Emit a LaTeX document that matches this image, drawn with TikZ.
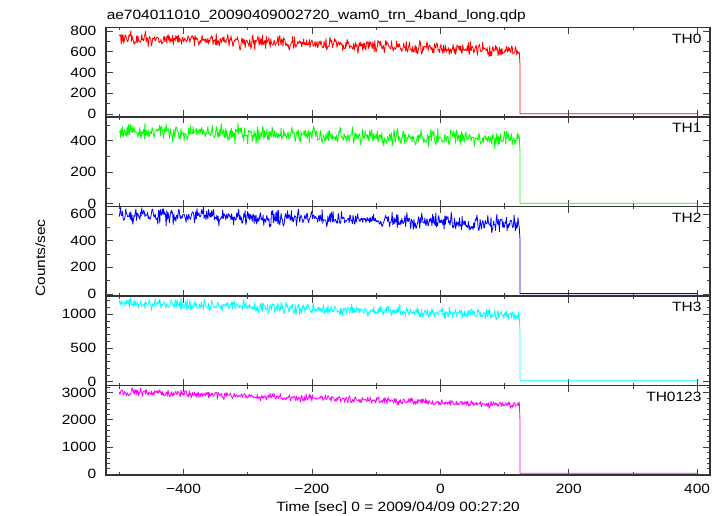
\documentclass[tikz,border=0pt]{standalone}
\usepackage{fontspec}
\setmainfont{Liberation Sans}[FakeStretch=1.15]
\definecolor{thcyan}{rgb}{0,1,1}
\definecolor{thmagenta}{rgb}{1,0,1}
\definecolor{thgreen}{rgb}{0,1,0}
\begin{document}
\begin{tikzpicture}[x=0.75pt,y=-0.75pt]
\tikzstyle{every node}+=[inner sep=0pt,font=\fontsize{10.1}{12}\selectfont]
\tikzstyle{frame}=[line width=0.9pt,black!80]
\tikzstyle{tick}=[line width=0.6pt,black!75]
\tikzstyle{rate}=[line width=0.6pt,line join=round]
\useasboundingbox (0,0) rectangle (723,516);
\pgfmathsetseed{20090409}

\node[anchor=base west] (title) at (106.5,19.7) {ae704011010\_20090409002720\_wam0\_trn\_4band\_long.qdp};
\node[rotate=90,anchor=base] (ylab) at (45,258) {Counts/sec};
\node[anchor=base] (xlab) at (398,511.6) {Time [sec] 0 = 2009/04/09 00:27:20};

\foreach \top/\zero/\k/\maj/\mn/\ymax/\tmax/\band [count=\p] in
  {27.5/114/0.1035/200/100/800/800/TH0,
   117/203.7/0.1575/200/100/400/500/TH1,
   206.5/294/0.1333/200/100/600/600/TH2,
   296/381.7/0.0674/500/100/1000/1200/TH3,
   385.5/474.3/0.0272/1000/200/3000/3200/TH0123}{
  \draw[frame] (106,\top) rectangle (710,{\top+89.5});
  \node[anchor=base east] (band\p) at (701.7,{\top+15.8}) {\band};
  \foreach \t in {-500,-300,...,300}
    \draw[tick] ({440.3+0.642*\t},\top) -- ++(0,3) ({440.3+0.642*\t},{\top+89.5}) -- ++(0,-3);
  \foreach \t in {-400,-200,...,400}
    \draw[tick] ({440.3+0.642*\t},\top) -- ++(0,6.5) ({440.3+0.642*\t},{\top+89.5}) -- ++(0,-6.5);
  \foreach \v in {0,\mn,...,\tmax}
    \draw[tick] (106,{\zero-\k*\v}) -- ++(3.5,0) (710,{\zero-\k*\v}) -- ++(-3.5,0);
  \foreach \v in {0,\maj,...,\ymax}{
    \draw[tick] (106,{\zero-\k*\v}) -- ++(7,0) (710,{\zero-\k*\v}) -- ++(-7,0);
    \node[anchor=east] (l\p-\v) at (96.5,{\zero-\k*\v}) {\v};
  }
}

\foreach \t/\s in {-400/−400,-200/−200,0/0,200/200,400/400}
  \node[anchor=base] (x\t) at ({440.3+0.642*\t},493.3) {\s};

\begin{scope}[shift={(440.3,114)},xscale=0.642,yscale=-0.1035]
\draw[rate,red] plot[domain=-500:123,samples=624] (\x,{735-0.197*(\x+500)+1.2*sqrt(735-0.197*(\x+500))*(rand+rand+rand)}) -- (124,490) -- (124,3) -- (400,3);
\end{scope}
\begin{scope}[shift={(440.3,203.7)},xscale=0.642,yscale=-0.1575]
\draw[rate,thgreen] plot[domain=-500:123,samples=624] (\x,{458-0.074*(\x+500)+1.2*sqrt(458-0.074*(\x+500))*(rand+rand+rand)}) -- (124,340) -- (124,3) -- (400,3);
\end{scope}
\begin{scope}[shift={(440.3,294)},xscale=0.642,yscale=-0.1333]
\draw[rate,blue] plot[domain=-500:123,samples=624] (\x,{600-0.125*(\x+500)+1.2*sqrt(600-0.125*(\x+500))*(rand+rand+rand)}) -- (124,420) -- (124,3) -- (400,3);
\end{scope}
\begin{scope}[shift={(440.3,381.7)},xscale=0.642,yscale=-0.0674]
\draw[rate,thcyan] plot[domain=-500:123,samples=624] (\x,{1170-0.297*(\x+500)+1.2*sqrt(1170-0.297*(\x+500))*(rand+rand+rand)}) -- (124,770) -- (124,15) -- (400,15);
\end{scope}
\begin{scope}[shift={(440.3,474.3)},xscale=0.642,yscale=-0.0272]
\draw[rate,thmagenta] plot[domain=-500:123,samples=624] (\x,{3030-0.786*(\x+500)+1.2*sqrt(3030-0.786*(\x+500))*(rand+rand+rand)}) -- (124,2050) -- (124,40) -- (400,40);
\end{scope}
\end{tikzpicture}
\end{document}
